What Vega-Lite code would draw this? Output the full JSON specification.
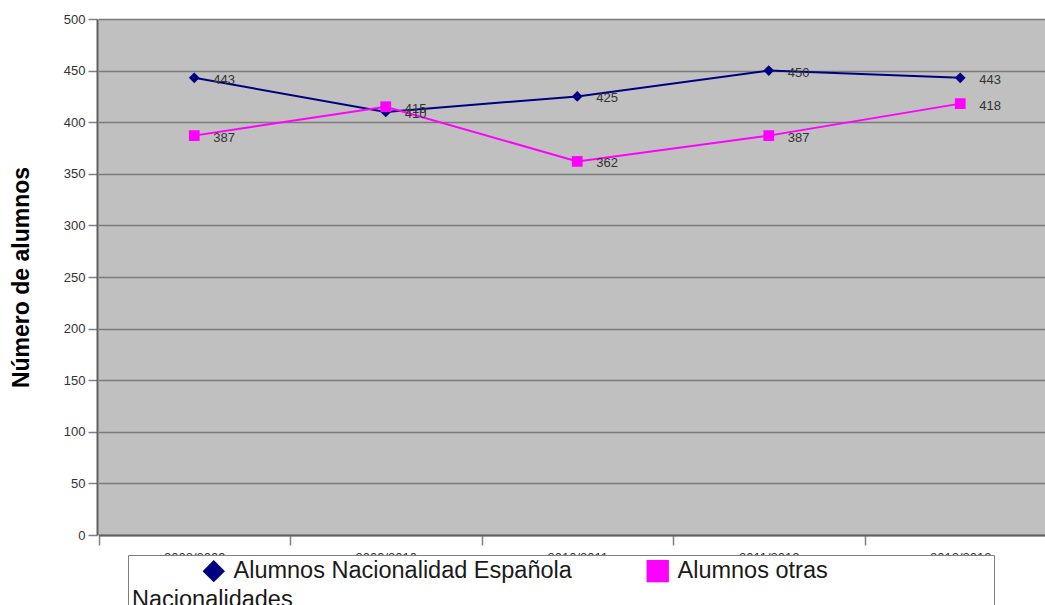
{
  "$schema": "https://vega.github.io/schema/vega-lite/v6.json",
  "width": 948,
  "height": 516,
  "autosize": {"type": "none"},
  "padding": {"left": 97, "top": 19, "right": 0, "bottom": 70},
  "background": "white",
  "config": {"view": {"fill": "#c0c0c0", "stroke": null}, "font": "Liberation Sans"},
  "data": {
    "values": [
      {"curso": "2008/2009", "serie": "Alumnos Nacionalidad Española", "alumnos": 443},
      {"curso": "2009/2010", "serie": "Alumnos Nacionalidad Española", "alumnos": 410},
      {"curso": "2010/2011", "serie": "Alumnos Nacionalidad Española", "alumnos": 425},
      {"curso": "2011/2012", "serie": "Alumnos Nacionalidad Española", "alumnos": 450},
      {"curso": "2012/2013", "serie": "Alumnos Nacionalidad Española", "alumnos": 443},
      {"curso": "2008/2009", "serie": "Alumnos otras Nacionalidades", "alumnos": 387},
      {"curso": "2009/2010", "serie": "Alumnos otras Nacionalidades", "alumnos": 415},
      {"curso": "2010/2011", "serie": "Alumnos otras Nacionalidades", "alumnos": 362},
      {"curso": "2011/2012", "serie": "Alumnos otras Nacionalidades", "alumnos": 387},
      {"curso": "2012/2013", "serie": "Alumnos otras Nacionalidades", "alumnos": 418}
    ]
  },
  "encoding": {
    "x": {
      "field": "curso",
      "type": "ordinal",
      "sort": null,
      "scale": {"type": "band", "range": [1.5, 959], "paddingInner": 0, "paddingOuter": 0},
      "axis": {
        "title": null,
        "labelAngle": 0,
        "tickBand": "extent",
        "tickSize": 10,
        "tickColor": "#808080",
        "tickWidth": 1.5,
        "domainColor": "#606060",
        "domainWidth": 2,
        "labelFontSize": 13,
        "labelColor": "#333333",
        "labelBaseline": "top",
        "labelPadding": 6,
        "grid": false
      }
    },
    "y": {
      "field": "alumnos",
      "type": "quantitative",
      "scale": {"domain": [0, 500], "nice": false, "zero": true},
      "axis": {
        "title": "Número de alumnos",
        "titleFontSize": 23,
        "titleFontWeight": "bold",
        "titleColor": "#000000",
        "titlePadding": 30,
        "values": [0, 50, 100, 150, 200, 250, 300, 350, 400, 450, 500],
        "labelFontSize": 13,
        "labelColor": "#333333",
        "labelPadding": 3,
        "tickSize": 9,
        "tickColor": "#808080",
        "tickWidth": 1.5,
        "domainColor": "#606060",
        "domainWidth": 2,
        "gridColor": "#7a7a7a",
        "gridWidth": 1.5
      }
    }
  },
  "layer": [
    {
      "transform": [{"filter": "datum.serie == 'Alumnos Nacionalidad Española'"}],
      "mark": {"type": "line", "strokeWidth": 2, "color": "#000080"},
      "encoding": {}
    },
    {
      "transform": [{"filter": "datum.serie == 'Alumnos otras Nacionalidades'"}],
      "mark": {"type": "line", "strokeWidth": 2, "color": "#ff00ff"},
      "encoding": {}
    },
    {
      "mark": {"type": "point", "filled": true, "opacity": 1, "size": 115, "strokeWidth": 0},
      "encoding": {
        "color": {
          "field": "serie",
          "type": "nominal",
          "scale": {"domain": ["Alumnos Nacionalidad Española", "Alumnos otras Nacionalidades"], "range": ["#000080", "#ff00ff"]},
          "legend": {
            "orient": "none", "legendX": 31, "legendY": 536,
            "direction": "horizontal", "columns": 2, "gridAlign": "each",
            "title": "Nacionalidades", "titleOrient": "bottom", "titleAnchor": "start", "titlePadding": 5,
            "titleFontSize": 23.5, "titleFontWeight": "normal", "titleColor": "#1a1a1a",
            "labelFontSize": 23.5, "labelColor": "#1a1a1a", "labelLimit": 600,
            "symbolSize": 500, "symbolOffset": 70, "labelOffset": 8, "columnPadding": 4,
            "padding": 4, "fillColor": "white", "strokeColor": "#808080", "symbolStrokeWidth": 0,
            "labelExpr": "datum.label == 'Alumnos otras Nacionalidades' ? 'Alumnos otras\u2800\u2800\u2800\u2800\u2800\u2800\u2800\u2800\u2800' : datum.label"
          }
        },
        "shape": {
          "field": "serie",
          "type": "nominal",
          "scale": {"domain": ["Alumnos Nacionalidad Española", "Alumnos otras Nacionalidades"], "range": ["diamond", "square"]},
          "legend": {
            "orient": "none", "legendX": 31, "legendY": 536,
            "direction": "horizontal", "columns": 2, "gridAlign": "each",
            "title": "Nacionalidades", "titleOrient": "bottom", "titleAnchor": "start", "titlePadding": 5,
            "titleFontSize": 23.5, "titleFontWeight": "normal", "titleColor": "#1a1a1a",
            "labelFontSize": 23.5, "labelColor": "#1a1a1a", "labelLimit": 600,
            "symbolSize": 500, "symbolOffset": 70, "labelOffset": 8, "columnPadding": 4,
            "padding": 4, "fillColor": "white", "strokeColor": "#808080", "symbolStrokeWidth": 0,
            "labelExpr": "datum.label == 'Alumnos otras Nacionalidades' ? 'Alumnos otras\u2800\u2800\u2800\u2800\u2800\u2800\u2800\u2800\u2800' : datum.label"
          }
        }
      }
    },
    {
      "mark": {"type": "text", "align": "left", "baseline": "middle", "dx": 19, "dy": 2, "fontSize": 13, "color": "#333333"},
      "encoding": {
        "text": {"field": "alumnos", "type": "quantitative"}
      }
    }
  ]
}
